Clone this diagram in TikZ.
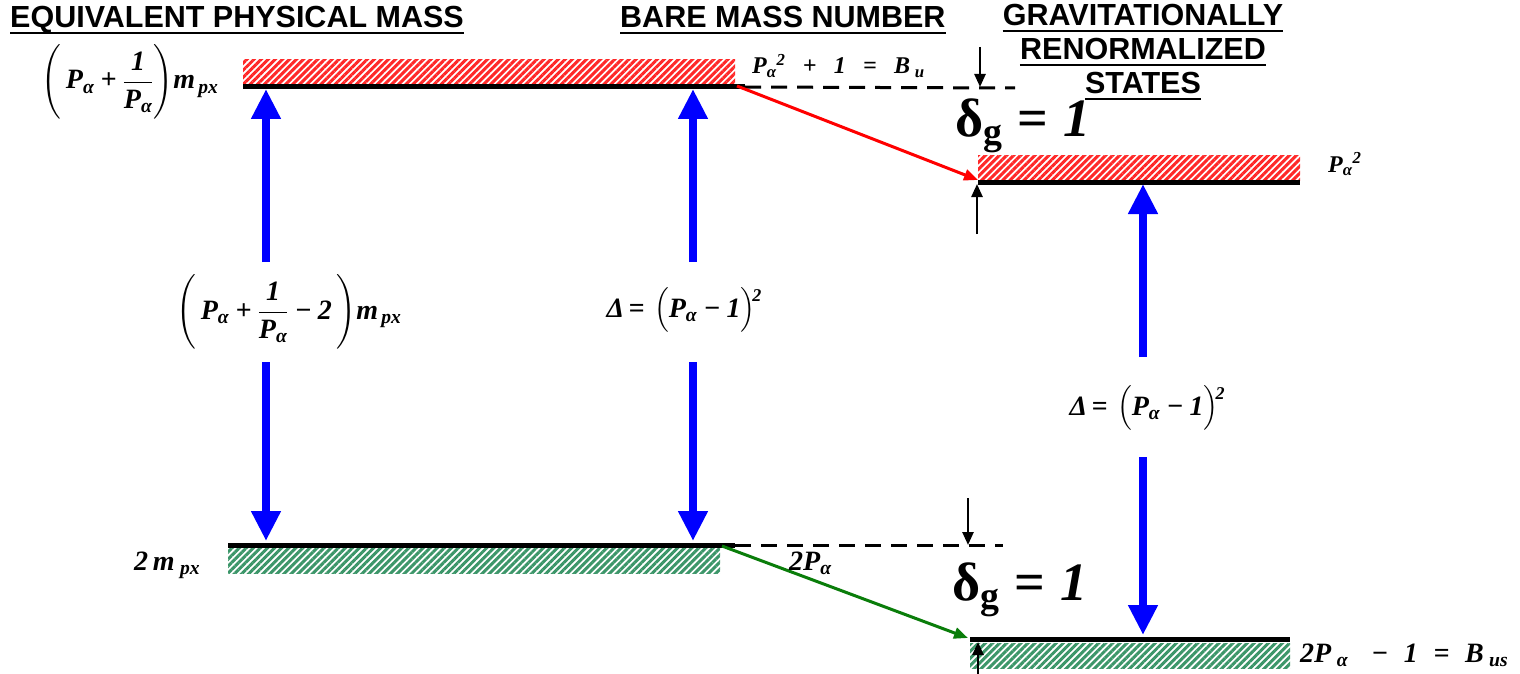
\RequirePackage{fix-cm}
\documentclass[tikz,border=0pt]{standalone}
\usepackage{amsmath}
\usepackage{fontspec}
\usetikzlibrary{arrows.meta,patterns.meta,calc}
\newfontfamily\hel{Liberation Sans}
\newfontfamily\tnr{Liberation Serif}
\newcommand\bi[1]{\text{\tnr\bfseries\itshape #1}}
\newcommand\bu[1]{\text{\tnr\bfseries #1}}
\newcommand\sqtwo{\mkern-5mu\raisebox{0.55em}{\fontsize{18}{20}\selectfont\tnr\bfseries\itshape 2}}
\definecolor{hgreen}{RGB}{60,150,105}
\definecolor{agreen}{RGB}{10,125,10}
\definecolor{ablue}{RGB}{0,0,255}
\definecolor{hred}{RGB}{255,40,40}
\begin{document}
\begin{tikzpicture}[x=1pt,y=-1pt,
  title/.style={inner sep=0pt,anchor=base,font=\hel\bfseries\fontsize{30.5}{34}\selectfont},
  uline/.style={line width=2.5pt},
  lab/.style={inner sep=0pt,font=\fontsize{28}{32}\selectfont},
  mlab/.style={inner sep=0pt,font=\fontsize{28}{32}\selectfont},
  slab/.style={inner sep=0pt,font=\fontsize{24}{28}\selectfont},
  biglab/.style={inner sep=0pt,anchor=base west,font=\fontsize{54}{58}\selectfont},
  level/.style={line width=5pt,black},
  dashlev/.style={line width=3pt,dash pattern=on 16pt off 10pt},
  redhatch/.style={pattern={Lines[angle=45,distance=5pt,line width=3pt]},pattern color=hred},
  greenhatch/.style={pattern={Lines[angle=45,distance=5pt,line width=3pt]},pattern color=hgreen},
  bluearrow/.style={ablue,line width=8pt,-{Triangle[length=30pt,width=28pt]}},
  smallarrow/.style={black,line width=2.5pt,-{Triangle[length=13pt,width=11pt]}},
  redarrow/.style={red,line width=3pt,-{Triangle[length=14pt,width=11pt]}},
  greenarrow/.style={agreen,line width=3pt,-{Triangle[length=14pt,width=11pt]}}
]
\useasboundingbox (0,0) rectangle (1520,674);

% titles
\node[title,anchor=base west] (t1) at (10,28) {EQUIVALENT PHYSICAL MASS};
\node[title,anchor=base west] (t2) at (620,28) {BARE MASS NUMBER};
\node[title] (t3a) at (1143,26) {GRAVITATIONALLY};
\node[title] (t3b) at (1143,60) {RENORMALIZED};
\node[title] (t3c) at (1143,94) {STATES};
\foreach \t in {t1,t2,t3a,t3b,t3c}
  \draw[uline] ($(\t.base west)+(0,5)$) -- ($(\t.base east)+(0,5)$);

% hatched level bands
\fill[redhatch] (243,60) rectangle (735,85);
\fill[redhatch] (978,155) rectangle (1300,180);
\fill[greenhatch] (228,548) rectangle (720,573);
\fill[greenhatch] (970,643) rectangle (1290,668);

% level coordinates
\coordinate (UL1) at (243,87);  \coordinate (UL2) at (745,87);
\coordinate (UD2) at (1015,88);
\coordinate (UR1) at (978,182); \coordinate (UR2) at (1300,182);
\coordinate (LL1) at (228,545); \coordinate (LL2) at (735,545);
\coordinate (LD2) at (1003,545);
\coordinate (LR1) at (970,639); \coordinate (LR2) at (1290,639);

\draw[level] (UL1) -- (UL2);
\draw[dashlev] (UL2) -- (UD2);
\draw[level] (UR1) -- (UR2);
\draw[level] (LL1) -- (LL2);
\draw[dashlev] (LL2) -- (LD2);
\draw[level] (LR1) -- (LR2);

% blue arrows (split around labels)
\coordinate (aL1) at (266,262); \coordinate (aL1t) at (266,89);
\coordinate (aL2) at (266,362); \coordinate (aL2t) at (266,541);
\coordinate (aM1) at (693,262); \coordinate (aM1t) at (693,89);
\coordinate (aM2) at (693,362); \coordinate (aM2t) at (693,541);
\coordinate (aR1) at (1143,357); \coordinate (aR1t) at (1143,184);
\coordinate (aR2) at (1143,457); \coordinate (aR2t) at (1143,635);
\draw[bluearrow] (aL1) -- (aL1t);
\draw[bluearrow] (aL2) -- (aL2t);
\draw[bluearrow] (aM1) -- (aM1t);
\draw[bluearrow] (aM2) -- (aM2t);
\draw[bluearrow] (aR1) -- (aR1t);
\draw[bluearrow] (aR2) -- (aR2t);

% red and green transition arrows
\coordinate (rs) at (737,86); \coordinate (re) at (978,180);
\coordinate (gs) at (722,546); \coordinate (ge) at (968,638);
\draw[redarrow] (rs) -- (re);
\draw[greenarrow] (gs) -- (ge);

% small black delta arrows
\coordinate (s1a) at (980,47);  \coordinate (s1b) at (980,87);
\coordinate (s2a) at (977,234); \coordinate (s2b) at (977,184);
\coordinate (s3a) at (968,498); \coordinate (s3b) at (968,545);
\coordinate (s4a) at (978,674); \coordinate (s4b) at (978,642);
\draw[smallarrow] (s1a) -- (s1b);
\draw[smallarrow] (s2a) -- (s2b);
\draw[smallarrow] (s3a) -- (s3b);
\draw[smallarrow] (s4a) -- (s4b);

% labels
\node[lab] (mtop) at (130,82)
  {$\left(\rule[-26pt]{0pt}{66pt}\,\bi{P}_{\bi{α}}\mathbin{\bi{+}}\dfrac{\bi{1}}{\bi{P}_{\bi{α}}}\right)\!\bi{m}_{\,\bi{px}}$};
\node[lab] (mmid) at (289,312)
  {$\left(\rule[-26pt]{0pt}{66pt}\,\bi{P}_{\bi{α}}\mathbin{\bi{+}}\dfrac{\bi{1}}{\bi{P}_{\bi{α}}}\mathbin{\bi{−}}\bi{2}\,\right)\!\bi{m}_{\,\bi{px}}$};
\node[lab] (dmid) at (684,310)
  {$\bi{Δ}\,\bi{=}\,\left(\rule[-16pt]{0pt}{46pt}\bi{P}_{\bi{α}}\mathbin{\bi{−}}\bi{1}\right)\sqtwo$};
\node[lab] (dright) at (1147,408)
  {$\bi{Δ}\,\bi{=}\,\left(\rule[-16pt]{0pt}{46pt}\bi{P}_{\bi{α}}\mathbin{\bi{−}}\bi{1}\right)\sqtwo$};
\node[lab,anchor=base west] (m2) at (134,570) {$\bi{2}\,\bi{m}_{\;\bi{px}}$};
\node[slab,anchor=base west] (bu) at (752,74)
  {$\bi{P}_{\bi{α}}{}^{\bi{2}}\;\;\,\bi{+}\;\;\,\bi{1}\;\;\,\bi{=}\;\;\,\bi{B}_{\;\bi{u}}$};
\node[slab,anchor=base west] (p2) at (1328,172) {$\bi{P}_{\bi{α}}{}^{\bi{2}}$};
\node[mlab,anchor=base west] (bus) at (1300,662)
  {$\bi{2P}_{\;\bi{α}}\;\;\;\bi{−}\;\;\bi{1}\;\;\bi{=}\;\;\bi{B}_{\;\bi{us}}$};
\node[mlab,anchor=base west] (tp) at (789,570) {$\bi{2P}_{\bi{α}}$};
\node[biglab] (dg1) at (955,136) {$\bu{δ}_{\bu{g}}\mathrel{\bu{=}}\bi{1}$};
\node[biglab] (dg2) at (952,600) {$\bu{δ}_{\bu{g}}\mathrel{\bu{=}}\bi{1}$};
\end{tikzpicture}
\end{document}
